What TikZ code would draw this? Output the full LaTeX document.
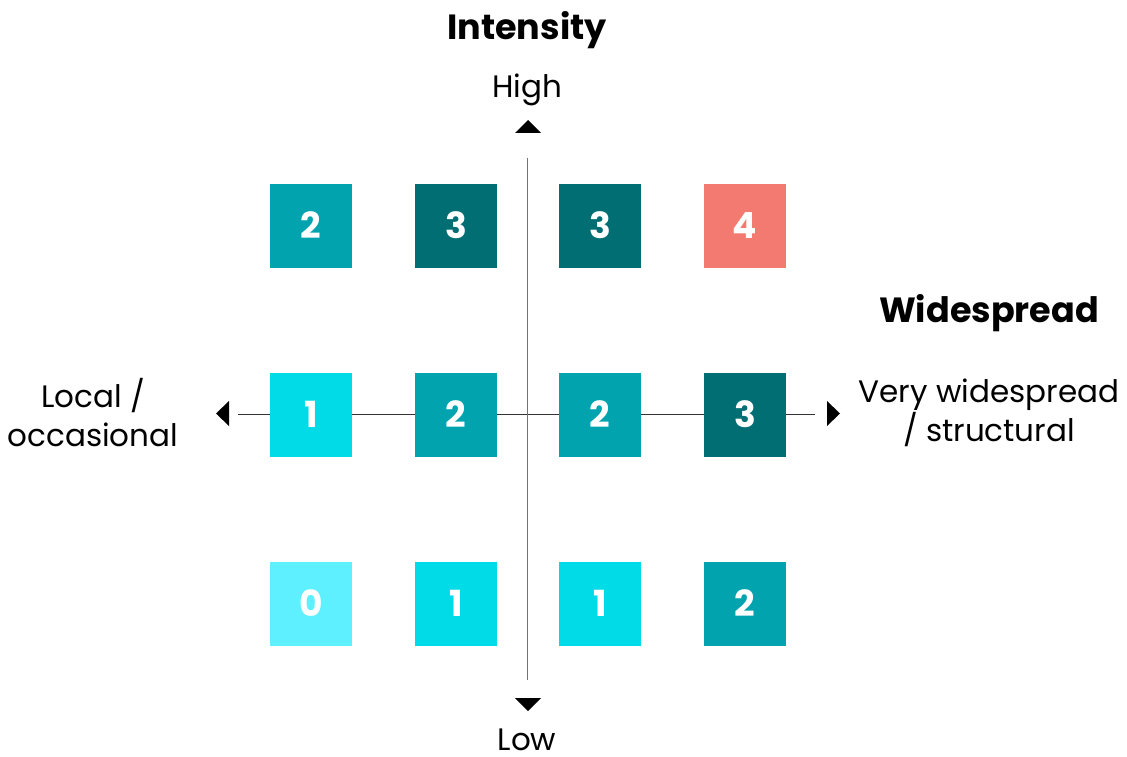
\documentclass[tikz,border=0pt]{standalone}
\usepackage{fontspec}
\setmainfont{Poppins}
\definecolor{lvl0}{HTML}{5EF0FF}
\definecolor{lvl1}{HTML}{00DBE8}
\definecolor{lvl2}{HTML}{01A3AF}
\definecolor{lvl3}{HTML}{016E74}
\definecolor{lvl4}{HTML}{F27A70}
\tikzset{
  cell/.style={minimum width=82pt, minimum height=84pt, inner sep=0pt, text=white,
    font=\fontsize{36}{36}\selectfont\bfseries, text height=25pt, text depth=0pt},
  axislbl/.style={font=\fontsize{31}{39}\selectfont, align=center},
  title/.style={font=\fontsize{35}{40}\selectfont\bfseries},
  tip/.style={fill=black, draw=none},
}
\begin{document}
\begin{tikzpicture}[x=1pt,y=-1pt]
\useasboundingbox (0,0) rectangle (1127,757);
% axes
\coordinate (hl) at (238,414);
\coordinate (hr) at (815,414);
\coordinate (vt) at (527,158);
\coordinate (vb) at (527,680);
\draw[line width=1pt, black!80] (hl) -- (hr);
\draw[line width=1pt, black!55] (vt) -- (vb);
% arrowheads
\fill[tip] (515,133) -- (541,133) -- (528,120) -- cycle;
\fill[tip] (515,698) -- (541,698) -- (528,711) -- cycle;
\fill[tip] (229,401) -- (229,426) -- (216,413.5) -- cycle;
\fill[tip] (827,401) -- (827,426) -- (840,413.5) -- cycle;
% grid of scores
\node[cell, fill=lvl2] (c13) at (311,226) {2};
\node[cell, fill=lvl3] (c23) at (456,226) {3};
\node[cell, fill=lvl3] (c33) at (600,226) {3};
\node[cell, fill=lvl4] (c43) at (745,226) {4};
\node[cell, fill=lvl1] (c12) at (311,415) {1};
\node[cell, fill=lvl2] (c22) at (456,415) {2};
\node[cell, fill=lvl2] (c32) at (600,415) {2};
\node[cell, fill=lvl3] (c42) at (745,415) {3};
\node[cell, fill=lvl0] (c11) at (311,604) {0};
\node[cell, fill=lvl1] (c21) at (456,604) {1};
\node[cell, fill=lvl1] (c31) at (600,604) {1};
\node[cell, fill=lvl2] (c41) at (745,604) {2};
% labels
\node[title] (tint) at (527,30) {Intensity};
\node[axislbl] (thigh) at (527,90) {High};
\node[axislbl] (tlow) at (527,740) {Low};
\node[title] (twide) at (989,313) {Widespread};
\node[axislbl] (tloc) at (93,413) {Local /\\occasional};
\node[axislbl] (tvery) at (989,413) {Very widespread\\/ structural};
\end{tikzpicture}
\end{document}
